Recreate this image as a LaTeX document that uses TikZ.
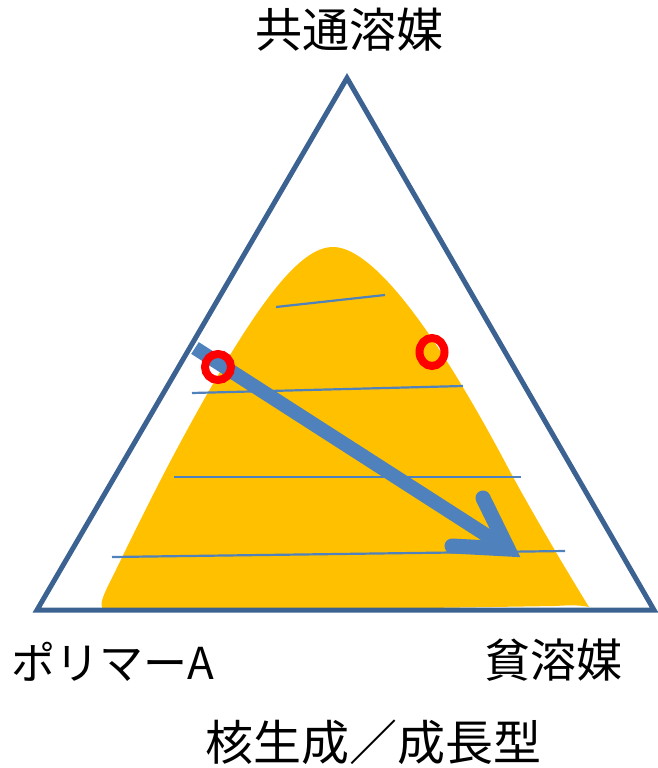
\documentclass[tikz,border=0pt]{standalone}
\usepackage{fontspec}
\newfontfamily\jp{Noto Sans CJK JP}
\usetikzlibrary{calc}
\definecolor{triblue}{RGB}{60,98,145}
\definecolor{arrblue}{RGB}{79,129,189}
\definecolor{gold}{RGB}{255,192,0}
\definecolor{ringred}{RGB}{255,0,0}
\tikzset{
  tri/.style={draw=triblue, line width=5pt, line join=miter},
  tieline/.style={draw=arrblue, line width=2.2pt},
  ring/.style={draw=ringred, line width=8pt},
  lbl/.style={inner sep=0pt, font=\jp\fontsize{44}{48}\selectfont},
}
\begin{document}
\begin{tikzpicture}[x=1pt, y=-1pt]
\useasboundingbox (0,0) rectangle (657,768);
% triangle vertices
\coordinate (top) at (347,78);
\coordinate (bl) at (37,610);
\coordinate (br) at (654,610);
% yellow region
\fill[gold] (333,247) .. controls (368,247) and (425,312) .. (505,462)
 .. controls (525,500) and (560,560) .. (589,607)
 .. controls (580,605) and (570,605) .. (555,606)
 -- (300,610) -- (115,612)
 .. controls (97,612) and (98,605) .. (112,578)
 .. controls (128,545) and (150,500) .. (171,460)
 .. controls (256,300) and (300,247) .. (333,247) -- cycle;
% triangle
\draw[tri] (top) -- (bl) -- (br) -- cycle;
% tie lines
\coordinate (l1a) at (276,307); \coordinate (l1b) at (385,295);
\coordinate (l2a) at (192,393); \coordinate (l2b) at (463,386);
\coordinate (l3a) at (174,477); \coordinate (l3b) at (521,477);
\coordinate (l4a) at (112,557); \coordinate (l4b) at (565,551);
\draw[tieline] (l1a) -- (l1b);
\draw[tieline] (l2a) -- (l2b);
\draw[tieline] (l3a) -- (l3b);
\draw[tieline] (l4a) -- (l4b);
% arrow
\coordinate (as) at (195,348);
\coordinate (at) at (508,549);
\coordinate (b1) at (483,498);
\coordinate (b2) at (452,546);
\draw[draw=arrblue, line width=14pt] (as) -- ($(at)!6pt!(as)$);
\draw[draw=arrblue, line width=15pt, line cap=round, line join=miter, miter limit=10] (b1) -- (at) -- (b2);
% rings
\draw[ring] (218,367) circle[x radius=13pt, y radius=13pt];
\draw[ring] (432,352) circle[x radius=12.5pt, y radius=14pt];
% labels
\node[lbl, font=\jp\fontsize{47}{50}\selectfont] (cs) at (349,30) {共通溶媒};
\node[lbl, anchor=west] (pa) at (11,662) {ポリマーA};
\node[lbl, anchor=east, font=\jp\fontsize{46}{50}\selectfont] (ps) at (623,660) {貧溶媒};
\node[lbl, font=\jp\fontsize{48}{52}\selectfont] (tt) at (373,742) {核生成／成長型};
\end{tikzpicture}
\end{document}
